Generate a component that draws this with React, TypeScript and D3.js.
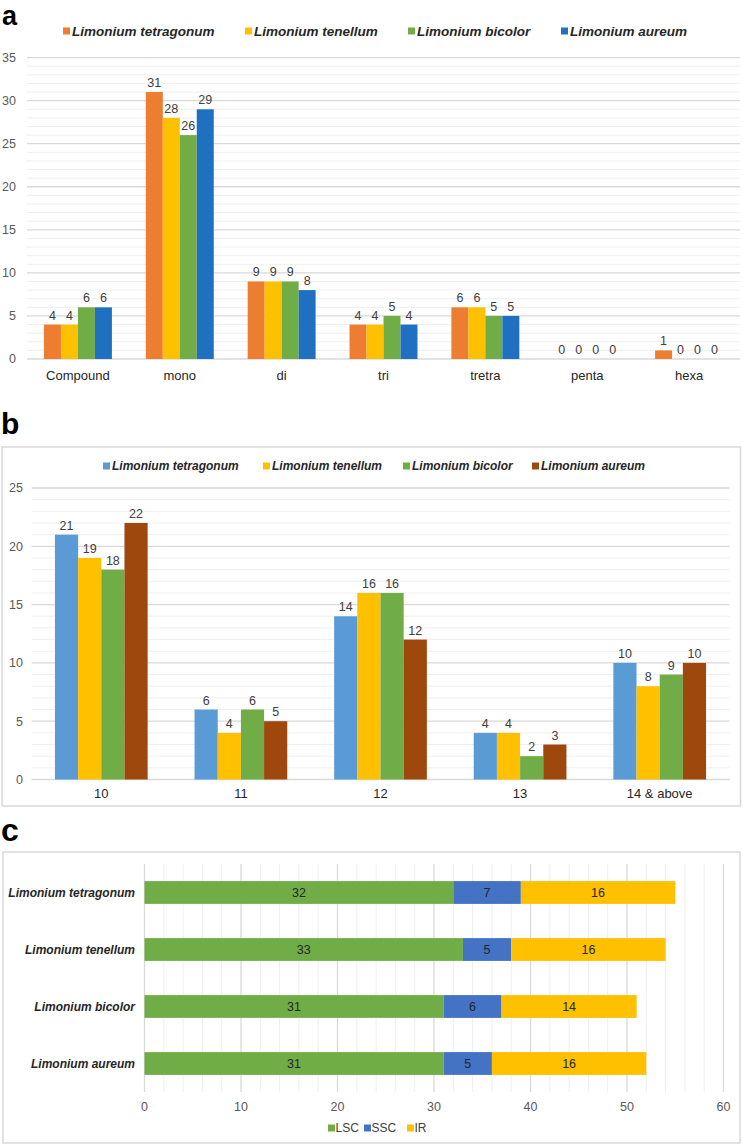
import React from "react";
import * as d3 from "d3";

// ---------- DATA ----------
const catsA = ["Compound", "mono", "di", "tri", "tretra", "penta", "hexa"];
const speciesA = ["Limonium tetragonum", "Limonium tenellum", "Limonium bicolor", "Limonium aureum"];
const tetragonumA = [4, 31, 9, 4, 6, 0, 1];
const tenellumA = [4, 28, 9, 4, 6, 0, 0];
const bicolorA = [6, 26, 9, 5, 5, 0, 0];
const aureumA = [6, 29, 8, 4, 5, 0, 0];
const ticksA = [0, 5, 10, 15, 20, 25, 30, 35];

const catsB = ["10", "11", "12", "13", "14 & above"];
const tetragonumB = [21, 6, 14, 4, 10];
const tenellumB = [19, 4, 16, 4, 8];
const bicolorB = [18, 6, 16, 2, 9];
const aureumB = [22, 5, 12, 3, 10];
const ticksB = [0, 5, 10, 15, 20, 25];

const speciesC = ["Limonium tetragonum", "Limonium tenellum", "Limonium bicolor", "Limonium aureum"];
const regionsC = ["LSC", "SSC", "IR"];
const lscC = [32, 33, 31, 31];
const sscC = [7, 5, 6, 5];
const irC = [16, 16, 14, 16];
const ticksC = [0, 10, 20, 30, 40, 50, 60];

// ---------- STYLE ----------
const FONT = "'Liberation Sans', Arial, sans-serif";
const colorsA = ["#ED7D31", "#FFC000", "#70AD47", "#1F70C1"];
const colorsB = ["#5B9BD5", "#FFC000", "#70AD47", "#9E480E"];
const colorsC = ["#70AD47", "#4472C4", "#FFC000"];
const MAJOR = "#D9D9D9";
const MINOR = "#EFEFEF";
const TXT = "#404040";

function GroupedBars({ cats, series, values, colors, x0, x1, y0, yTop, max, ticks, groupFrac, tickX, labelY, fontTick }) {
  const x = d3.scaleBand().domain(cats).range([x0, x1]).padding(0);
  const y = d3.scaleLinear().domain([0, max]).range([y0, yTop]);
  const gw = x.bandwidth() * groupFrac;
  const inner = d3.scaleBand().domain(series).range([0, gw]).padding(0);
  const minor = d3.range(0, max + 1, 1);
  return (
    <g>
      {minor.map((v) => (
        <line key={"m" + v} x1={x0} x2={x1} y1={y(v)} y2={y(v)} stroke={v % 5 === 0 ? MAJOR : MINOR} strokeWidth={v % 5 === 0 ? 1.3 : 1} />
      ))}
      {ticks.map((t) => (
        <text key={"t" + t} x={tickX} y={y(t)} dy="0.35em" textAnchor="end" fontSize={fontTick} fill="#595959">{t}</text>
      ))}
      {cats.map((c, i) => (
        <g key={c}>
          {series.map((s, j) => {
            const v = values[j][i];
            const bx = x(c) + (x.bandwidth() - gw) / 2 + inner(s);
            return (
              <g key={s}>
                <rect x={bx} y={y(v)} width={inner.bandwidth()} height={y(0) - y(v)} fill={colors[j]} />
                <text x={bx + inner.bandwidth() / 2} y={y(v) - 5} textAnchor="middle" fontSize={12.5} fill={TXT}>{v}</text>
              </g>
            );
          })}
          <text x={x(c) + x.bandwidth() / 2} y={labelY} dy="0.35em" textAnchor="middle" fontSize={13} fill="#262626">{c}</text>
        </g>
      ))}
    </g>
  );
}

function Legend({ items, colors, xs, y, size, fontSize }) {
  return (
    <g>
      {items.map((s, i) => (
        <g key={s}>
          <rect x={xs[i]} y={y - size / 2} width={size} height={size} fill={colors[i]} />
          <text x={xs[i] + size + 2} y={y} dy="0.35em" fontSize={fontSize} fontWeight="bold" fontStyle="italic" fill="#262626">{s}</text>
        </g>
      ))}
    </g>
  );
}

export default function App() {
  // Panel c scales
  const xc = d3.scaleLinear().domain([0, 60]).range([144.5, 723.5]);
  const yc = d3.scaleBand().domain(speciesC).range([864, 1092]).paddingInner(0.6).paddingOuter(0.3);
  const stackData = speciesC.map((s, i) => ({ species: s, LSC: lscC[i], SSC: sscC[i], IR: irC[i] }));
  const stacked = d3.stack().keys(regionsC)(stackData);
  const minorC = d3.range(0, 61, 2);

  return (
    <svg width={743} height={1145} style={{ position: "absolute", left: 0, top: 0, fontFamily: FONT }}>
      <rect width={743} height={1145} fill="#fff" />
      {/* Panel a */}
      <text x={2} y={25} fontSize={27} fontWeight="bold" fill="#000">a</text>
      <Legend items={speciesA} colors={colorsA} xs={[63, 245, 408, 561]} y={31} size={7} fontSize={13.5} />
      <GroupedBars cats={catsA} series={speciesA} values={[tetragonumA, tenellumA, bicolorA, aureumA]} colors={colorsA}
        x0={27} x1={740} y0={359} yTop={57.6} max={35} ticks={ticksA} groupFrac={0.667} tickX={16} labelY={375} fontTick={12.5} />

      {/* Panel b */}
      <text x={1} y={434} fontSize={30} fontWeight="bold" fill="#000">b</text>
      <rect x={2} y={447} width={738.5} height={359} fill="none" stroke={MAJOR} strokeWidth={1.5} />
      <Legend items={speciesA} colors={colorsB} xs={[103, 263, 403, 532]} y={466} size={7} fontSize={12} />
      <GroupedBars cats={catsB} series={speciesA} values={[tetragonumB, tenellumB, bicolorB, aureumB]} colors={colorsB}
        x0={31.5} x1={729.5} y0={779.5} yTop={488} max={25} ticks={ticksB} groupFrac={0.664} tickX={23} labelY={793} fontTick={12.5} />

      {/* Panel c */}
      <text x={1} y={841} fontSize={32} fontWeight="bold" fill="#000">c</text>
      <rect x={3} y={852} width={737} height={291} fill="none" stroke={MAJOR} strokeWidth={1.5} />
      {minorC.map((v) => (
        <line key={"gc" + v} x1={xc(v)} x2={xc(v)} y1={864} y2={1092} stroke={v % 10 === 0 ? MAJOR : MINOR} strokeWidth={v % 10 === 0 ? 1.3 : 1} />
      ))}
      {ticksC.map((t) => (
        <text key={"tc" + t} x={xc(t)} y={1107} dy="0.35em" textAnchor="middle" fontSize={12.5} fill="#595959">{t}</text>
      ))}
      {speciesC.map((s) => (
        <text key={"lc" + s} x={135} y={yc(s) + yc.bandwidth() / 2} dy="0.35em" textAnchor="end" fontSize={12} fontWeight="bold" fontStyle="italic" fill="#262626">{s}</text>
      ))}
      {stacked.map((layer, k) => (
        <g key={layer.key}>
          {layer.map((d, i) => (
            <g key={i}>
              <rect x={xc(d[0])} y={yc(speciesC[i])} width={xc(d[1]) - xc(d[0])} height={yc.bandwidth()} fill={colorsC[k]} />
              <text x={(xc(d[0]) + xc(d[1])) / 2} y={yc(speciesC[i]) + yc.bandwidth() / 2} dy="0.35em" textAnchor="middle" fontSize={12.5} fill="#262626">{d[1] - d[0]}</text>
            </g>
          ))}
        </g>
      ))}
      {regionsC.map((r, i) => {
        const xs = [328, 364, 407];
        return (
          <g key={r}>
            <rect x={xs[i]} y={1124.5} width={7} height={7} fill={colorsC[i]} />
            <text x={xs[i] + 7.5} y={1128} dy="0.35em" fontSize={12} fill="#404040">{r}</text>
          </g>
        );
      })}
    </svg>
  );
}
